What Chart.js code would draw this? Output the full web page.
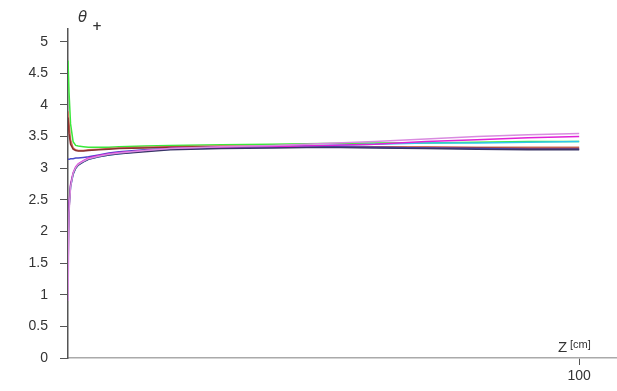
<!DOCTYPE html>
<html>
<head>
<meta charset="utf-8">
<script src="https://cdn.jsdelivr.net/npm/chart.js@4"></script>
<style>
  body { margin: 0; background: #fff; }
  #wrap { width: 617px; height: 391px; }
</style>
</head>
<body>
<div id="wrap"><canvas id="myChart"></canvas></div>
<script>
// Z positions (cm) where theta+ was sampled
var zValues = [0, 0.2, 0.5, 1, 1.5, 2, 3, 4, 6, 8, 10, 15, 20, 30, 40, 50, 60, 70, 80, 90, 100];

// theta+ for each run
var runGreen   = [4.7, 4.2, 3.7, 3.42, 3.36, 3.35, 3.34, 3.33, 3.33, 3.33, 3.34, 3.35, 3.36, 3.37, 3.38, 3.39, 3.40, 3.40, 3.41, 3.42, 3.42];
var runRed     = [3.9, 3.7, 3.45, 3.32, 3.29, 3.28, 3.28, 3.29, 3.30, 3.31, 3.32, 3.33, 3.34, 3.35, 3.35, 3.35, 3.34, 3.34, 3.33, 3.33, 3.33];
var runMaroon  = [3.8, 3.55, 3.38, 3.30, 3.28, 3.27, 3.27, 3.28, 3.29, 3.30, 3.31, 3.32, 3.33, 3.34, 3.34, 3.33, 3.33, 3.32, 3.32, 3.31, 3.31];
var runBlue    = [3.14, 3.14, 3.15, 3.15, 3.16, 3.16, 3.17, 3.18, 3.21, 3.24, 3.26, 3.29, 3.31, 3.33, 3.33, 3.34, 3.33, 3.32, 3.31, 3.30, 3.30];
var runCyan    = [1.85, 2.4, 2.7, 2.9, 3.0, 3.05, 3.1, 3.14, 3.18, 3.21, 3.23, 3.27, 3.30, 3.32, 3.34, 3.36, 3.38, 3.40, 3.40, 3.41, 3.42];
var runMagenta = [1.8, 2.45, 2.75, 2.93, 3.02, 3.07, 3.12, 3.16, 3.20, 3.23, 3.25, 3.28, 3.31, 3.33, 3.34, 3.36, 3.38, 3.42, 3.45, 3.48, 3.50];
var runViolet  = [0.9, 2.3, 2.7, 2.92, 3.01, 3.06, 3.11, 3.15, 3.19, 3.22, 3.24, 3.28, 3.31, 3.34, 3.36, 3.39, 3.42, 3.46, 3.50, 3.53, 3.55];
var runNavy    = [1.35, 2.35, 2.72, 2.91, 3.0, 3.05, 3.1, 3.14, 3.18, 3.21, 3.23, 3.26, 3.29, 3.31, 3.32, 3.33, 3.32, 3.31, 3.30, 3.29, 3.29];

var yTicks = [0, 0.5, 1, 1.5, 2, 2.5, 3, 3.5, 4, 4.5, 5];
var xTicks = [100];

function pts(vals) {
  return vals.map(function(v, i) { return { x: zValues[i], y: v }; });
}

function line(vals, color) {
  return {
    data: pts(vals),
    borderColor: color,
    borderWidth: 1.5,
    pointRadius: 0,
    tension: 0,
    fill: false
  };
}

// axis titles: theta+ at the top of the y axis, Z [cm] at the end of the x axis
var axisTitles = {
  id: 'axisTitles',
  afterDraw: function(chart) {
    var ctx = chart.ctx;
    ctx.save();
    ctx.fillStyle = '#333';
    ctx.textBaseline = 'alphabetic';
    ctx.font = 'italic 15px "DejaVu Sans"';
    ctx.fillText('\u03b8', 78, 22);
    ctx.font = 'bold 12px "DejaVu Sans"';
    ctx.fillText('+', 92, 30);
    ctx.font = '15px "Liberation Sans"';
    ctx.fillText('Z', 558, 352);
    ctx.font = '11px "Liberation Sans"';
    ctx.fillText('[cm]', 570, 348);
    ctx.restore();
  }
};

var ctx = document.getElementById("myChart");

var myChart = new Chart(ctx, {
  type: 'line',
  data: {
    datasets: [
      line(runViolet, '#d98be0'),
      line(runNavy, '#3a3466'),
      line(runMagenta, '#e020d8'),
      line(runCyan, '#30c8ec'),
      line(runBlue, '#4848c8'),
      line(runMaroon, '#8a3030'),
      line(runRed, '#d0705c'),
      line(runGreen, '#3ae83a')
    ]
  },
  options: {
    responsive: true,
    maintainAspectRatio: false,
    animation: false,
    layout: { padding: { top: 29, right: 0, left: 0, bottom: 0 } },
    plugins: {
      legend: { display: false },
      tooltip: { enabled: false }
    },
    scales: {
      x: {
        type: 'linear',
        min: 0,
        max: 107.4,
        afterBuildTicks: function(scale) {
          scale.ticks = xTicks.map(function(v) { return { value: v }; });
        },
        afterFit: function(scale) { scale.height = 33; },
        border: { display: true, color: '#aaa', width: 1.5 },
        grid: { display: true, drawOnChartArea: false, drawTicks: true, tickLength: 7, color: '#555' },
        ticks: { color: '#333', font: { family: 'Liberation Sans', size: 14 }, padding: 3, maxRotation: 0 }
      },
      y: {
        type: 'linear',
        min: 0,
        max: 5.2,
        afterBuildTicks: function(scale) {
          scale.ticks = yTicks.map(function(v) { return { value: v }; });
        },
        afterFit: function(scale) { scale.width = 68; },
        border: { display: true, color: '#555', width: 1.5 },
        grid: { display: true, drawOnChartArea: false, drawTicks: true, tickLength: 8, color: '#555' },
        ticks: {
          color: '#333',
          font: { family: 'Liberation Sans', size: 14 },
          padding: 12,
          callback: function(v) { return String(v); }
        }
      }
    }
  },
  plugins: [axisTitles]
});
</script>
</body>
</html>
